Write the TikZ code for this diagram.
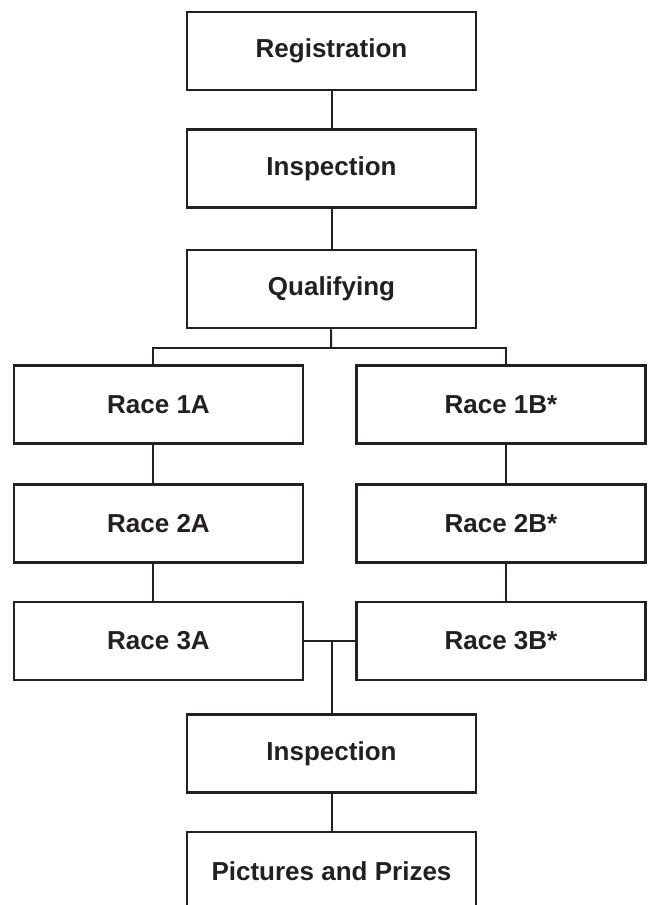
\documentclass[tikz,border=0pt]{standalone}
\usepackage{fontspec}
\setmainfont{Liberation Sans}
\usepackage{tikz}

\begin{document}
\begin{tikzpicture}[x=1pt,y=-1pt,
  box/.style={draw=inkg,line width=2.5pt,minimum width=289pt,minimum height=78pt,
    inner sep=0pt,font=\fontsize{26}{30}\selectfont\bfseries,text=inkg},
  link/.style={draw=inkg,line width=2pt},
  colA/.style={xshift=-6pt},
  colB/.style={xshift=5pt}]

\definecolor{inkg}{rgb}{0.14,0.12,0.13}

\useasboundingbox[fill=white](0,0)rectangle(652,905);

% middle column
\node[box](reg)at(331.5,51){Registration};
\node[box](insp)at(331.5,168.5){Inspection};
\node[box](qual)at(331.5,289){Qualifying};

% the two race columns
\node[box](raceOneA)at(158.5,404.5){Race 1A};
\node[box](raceTwoA)at(158.5,523.5){Race 2A};
\node[box](raceThreeA)at(158.5,641){Race 3A};
\node[box](raceOneB)at(501,404.5){Race 1B*};
\node[box](raceTwoB)at(501,523.5){Race 2B*};
\node[box](raceThreeB)at(501,641){Race 3B*};

% after the races
\node[box](inspEnd)at(331.5,753.5){Inspection};
\node[box](prizes)at(331.5,871){Pictures and Prizes};

\coordinate(split)at(331,348);

\draw[link](reg)--(insp);
\draw[link](insp)--(qual);
\draw[link](qual)--(split);
\draw[link]([colA]raceOneA.north)|-(split)-|([colB]raceOneB.north);

\draw[link]([colA]raceOneA.south)--([colA]raceTwoA.north);
\draw[link]([colA]raceTwoA.south)--([colA]raceThreeA.north);
\draw[link]([colB]raceOneB.south)--([colB]raceTwoB.north);
\draw[link]([colB]raceTwoB.south)--([colB]raceThreeB.north);

\draw[link](raceThreeA.east)--(raceThreeB.west);
\draw[link](raceThreeA.east -| inspEnd.north)--(inspEnd.north);
\draw[link](inspEnd)--(prizes);

\end{tikzpicture}
\end{document}
